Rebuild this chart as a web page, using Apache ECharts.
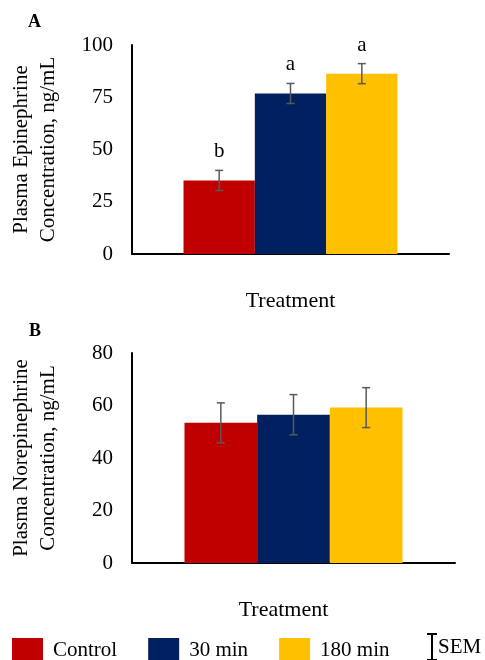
<!DOCTYPE html>
<html>
<head>
<meta charset="utf-8">
<script src="https://cdn.jsdelivr.net/npm/echarts@6/dist/echarts.min.js"></script>
<style>
  html, body { margin: 0; padding: 0; background: #fff; }
  #chart { width: 485px; height: 660px; }
</style>
</head>
<body>
<div id="chart"></div>
<script>
const groups = ["Control", "30 min", "180 min"];
const colors = ["#C00000", "#002060", "#FFC000"];

// panel A: epinephrine
const epiMean = [35.2, 76.8, 86.3];
const epiSem = [4.8, 4.8, 4.8];
const epiLetters = ["b", "a", "a"];
const epiTicks = [0, 100, 25];

// panel B: norepinephrine
const norMean = [53.4, 56.5, 59.2];
const norSem = [7.6, 7.65, 7.6];
const norLetters = ["", "", ""];
const norTicks = [0, 80, 20];

const FONT = "'Liberation Serif', 'Times New Roman', serif";
const CAT_GAP = 0.325;

const chart = echarts.init(document.getElementById("chart"));

function yAxisFor(gridIndex, ticks, title) {
  return {
    type: "value",
    gridIndex,
    min: ticks[0],
    max: ticks[1],
    interval: ticks[2],
    name: title,
    nameLocation: "middle",
    nameRotate: 90,
    nameGap: 70,
    nameTextStyle: { fontFamily: FONT, fontSize: 21, color: "#000", lineHeight: 27 },
    axisLine: { show: true, lineStyle: { color: "#000", width: 2 } },
    axisTick: { show: false },
    splitLine: { show: false },
    axisLabel: { fontFamily: FONT, fontSize: 21, color: "#000", margin: 19 },
  };
}

function xAxisFor(gridIndex, pad) {
  return {
    type: "category",
    gridIndex,
    data: ["Treatment"],
    name: "Treatment",
    nameLocation: "middle",
    nameGap: 36,
    nameTextStyle: { fontFamily: FONT, fontSize: 22, color: "#000", padding: pad },
    axisLine: { lineStyle: { color: "#000", width: 2 } },
    axisTick: { show: false },
    axisLabel: { show: false },
  };
}

function barsFor(axisIndex, means) {
  return groups.map((g, i) => ({
    name: g,
    type: "bar",
    xAxisIndex: axisIndex,
    yAxisIndex: axisIndex,
    data: [means[i]],
    barGap: "0%",
    barCategoryGap: CAT_GAP * 100 + "%",
    itemStyle: { color: colors[i] },
    emphasis: { disabled: true },
  }));
}

function errorsFor(axisIndex, means, sems, letters) {
  return {
    name: "SEM",
    type: "custom",
    xAxisIndex: axisIndex,
    yAxisIndex: axisIndex,
    z: 5,
    data: means.map((m, i) => [0, m - sems[i], m + sems[i], i]),
    encode: { x: 0, y: [1, 2] },
    renderItem: (params, api) => {
      const k = api.value(3);
      const band = api.size([1, 0])[0];
      const barW = (band * (1 - CAT_GAP)) / 3;
      const cx = api.coord([api.value(0), 0])[0] + (k - 1) * barW;
      const yLo = api.coord([0, api.value(1)])[1];
      const yHi = api.coord([0, api.value(2)])[1];
      const st = { stroke: "#595959", lineWidth: 1.5 };
      return {
        type: "group",
        children: [
          { type: "line", shape: { x1: cx, y1: yLo, x2: cx, y2: yHi }, style: st },
          { type: "line", shape: { x1: cx - 4, y1: yLo, x2: cx + 4, y2: yLo }, style: st },
          { type: "line", shape: { x1: cx - 4, y1: yHi, x2: cx + 4, y2: yHi }, style: st },
          {
            type: "text",
            x: cx,
            y: yHi - 8,
            style: {
              text: letters[params.dataIndex],
              fontFamily: FONT,
              fontSize: 21,
              fill: "#000",
              align: "center",
              verticalAlign: "bottom",
            },
          },
        ],
      };
    },
  };
}

const option = {
  animation: false,
  backgroundColor: "#fff",
  title: [
    { text: "A", left: 23, top: 8, textStyle: { fontFamily: FONT, fontSize: 18, fontWeight: "bold", color: "#000" } },
    { text: "B", left: 24, top: 317, textStyle: { fontFamily: FONT, fontSize: 18, fontWeight: "bold", color: "#000" } },
  ],
  grid: [
    { left: 132, right: 36, top: 45, height: 209 },
    { left: 127, right: 30, top: 353, height: 210 },
  ],
  legend: [
    {
      data: groups.map((g) => ({ name: g, icon: "rect" })),
      left: 7,
      top: 633,
      itemWidth: 31,
      itemHeight: 24,
      itemGap: 31,
      selectedMode: false,
      textStyle: { fontFamily: FONT, fontSize: 21, color: "#000", padding: [0, 0, 0, 5] },
    },
    {
      data: [{
        name: "SEM",
        icon: "path://M0,0H10V2H6V26H10V28H0V26H4V2H0Z",
        itemStyle: { color: "#000", borderWidth: 0 },
      }],
      left: 422,
      top: 628,
      itemWidth: 10,
      itemHeight: 28,
      selectedMode: false,
      textStyle: { fontFamily: FONT, fontSize: 21, color: "#000", padding: [0, 0, 0, -4] },
    },
  ],
  xAxis: [xAxisFor(0, [0, 0, 0, 0]), xAxisFor(1, [0, 20, 0, 0])],
  yAxis: [
    yAxisFor(0, epiTicks, "Plasma Epinephrine\nConcentration, ng/mL"),
    yAxisFor(1, norTicks, "Plasma Norepinephrine\nConcentration, ng/mL"),
  ],
  series: [
    ...barsFor(0, epiMean),
    errorsFor(0, epiMean, epiSem, epiLetters),
    ...barsFor(1, norMean),
    errorsFor(1, norMean, norSem, norLetters),
  ],
};

chart.setOption(option);
</script>
</body>
</html>
